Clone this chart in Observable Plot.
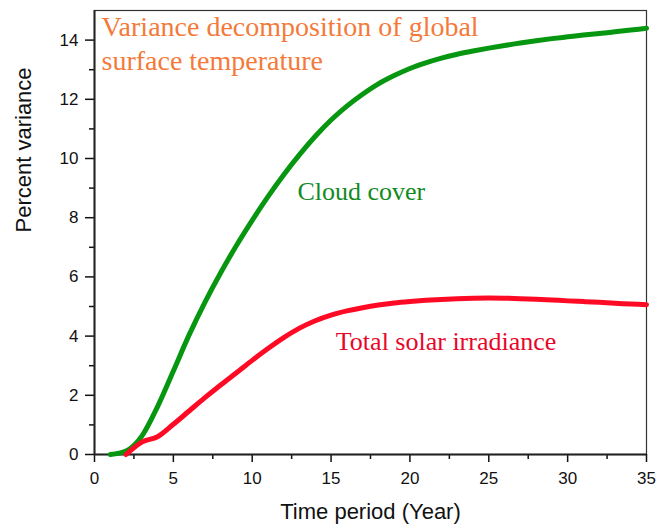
<!DOCTYPE html>
<html>
<head>
<meta charset="utf-8">
<script src="https://cdn.jsdelivr.net/npm/d3@7"></script>
<script src="https://cdn.jsdelivr.net/npm/@observablehq/plot@0.6"></script>
<style>
  html, body { margin: 0; padding: 0; background: #fff; }
  #chart { width: 669px; height: 524px; }
</style>
</head>
<body>
<div id="chart"></div>
<script>
// ---- data ----
const years = [1,2,3,4,5,6,7,8,9,10,11,12,13,14,15,16,17,18,19,20,21,22,23,24,25,26,27,28,29,30,31,32,33,34,35];
const cloudCover = [0,0.12,0.62,1.62,2.82,4.04,5.14,6.14,7.06,7.91,8.71,9.45,10.13,10.75,11.3,11.77,12.17,12.52,12.8,13.04,13.23,13.39,13.52,13.63,13.73,13.82,13.9,13.98,14.05,14.11,14.17,14.22,14.28,14.34,14.4];
const tsiYears = [2,3,4,5,6,7,8,9,10,11,12,13,14,15,16,17,18,19,20,21,22,23,24,25,26,27,28,29,30,31,32,33,34,35];
const solarIrradiance = [0,0.42,0.6,1.02,1.47,1.92,2.35,2.76,3.18,3.58,3.95,4.27,4.52,4.71,4.85,4.96,5.05,5.12,5.17,5.21,5.24,5.265,5.28,5.285,5.28,5.265,5.245,5.22,5.19,5.165,5.14,5.11,5.085,5.06];
const xTicks = [0,5,10,15,20,25,30,35];
const yTicks = [0,2,4,6,8,10,12,14];
const titleText = "Variance decomposition of global\nsurface temperature";
const cloudLabel = "Cloud cover";
const tsiLabel = "Total solar irradiance";
const xLabel = "Time period (Year)";
const yLabel = "Percent variance";

const cloudData = years.map((x, i) => ({x, y: cloudCover[i]}));
const tsiData = tsiYears.map((x, i) => ({x, y: solarIrradiance[i]}));
const xMinor = d3.range(2.5, 35, 5);
const yMinor = d3.range(1, 15, 2);

const sans = "'Liberation Sans', Arial, sans-serif";
const serif = "'Liberation Serif', 'Times New Roman', serif";

const plot = Plot.plot({
  width: 669,
  height: 524,
  marginLeft: 94,
  marginRight: 23,
  marginTop: 10,
  marginBottom: 70,
  style: {fontFamily: sans, background: "#fff", overflow: "visible"},
  x: {domain: [0, 35]},
  y: {domain: [0, 15]},
  marks: [
    Plot.frame({stroke: "#333", strokeWidth: 1.2}),
    Plot.axisX({ticks: xTicks, tickSize: 8, tickPadding: 9, fontSize: 17, label: null, stroke: "#111", strokeWidth: 1.5, color: "#111"}),
    Plot.axisX({ticks: xMinor, tickSize: 5, text: null, label: null, stroke: "#111", strokeWidth: 1.5}),
    Plot.axisY({ticks: yTicks, tickSize: 9, tickPadding: 7, fontSize: 17, label: null, stroke: "#111", strokeWidth: 1.5, color: "#111"}),
    Plot.axisY({ticks: yMinor, tickSize: 5, text: null, label: null, stroke: "#111", strokeWidth: 1.5}),
    Plot.ruleY([0], {stroke: "#222", strokeWidth: 2}),
    Plot.ruleX([0], {stroke: "#222", strokeWidth: 2}),
    Plot.line(cloudData, {x: "x", y: "y", stroke: "#07960f", strokeWidth: 5, curve: "monotone-x"}),
    Plot.line(tsiData, {x: "x", y: "y", stroke: "#ff0a24", strokeWidth: 5, curve: "monotone-x"}),
    Plot.text([titleText], {frameAnchor: "top-left", dx: 7, dy: 2, text: d => d, lineAnchor: "top", textAnchor: "start", fontFamily: serif, fontSize: 28, lineHeight: 1.2, fill: "#f47a3a"}),
    Plot.text([cloudLabel], {x: 12.87, y: 9.22, text: d => d, lineAnchor: "top", textAnchor: "start", fontFamily: serif, fontSize: 26, fill: "#138a1e"}),
    Plot.text([tsiLabel], {x: 15.3, y: 4.17, text: d => d, lineAnchor: "top", textAnchor: "start", fontFamily: serif, fontSize: 26, fill: "#e8062a"}),
    Plot.text([xLabel], {frameAnchor: "bottom", dy: 49, text: d => d, lineAnchor: "top", fontFamily: sans, fontSize: 22, fill: "#111"}),
    Plot.text([yLabel], {frameAnchor: "left", dx: -71, text: d => d, rotate: -90, fontFamily: sans, fontSize: 22, fill: "#111"})
  ]
});
document.getElementById("chart").appendChild(plot);
</script>
</body>
</html>
